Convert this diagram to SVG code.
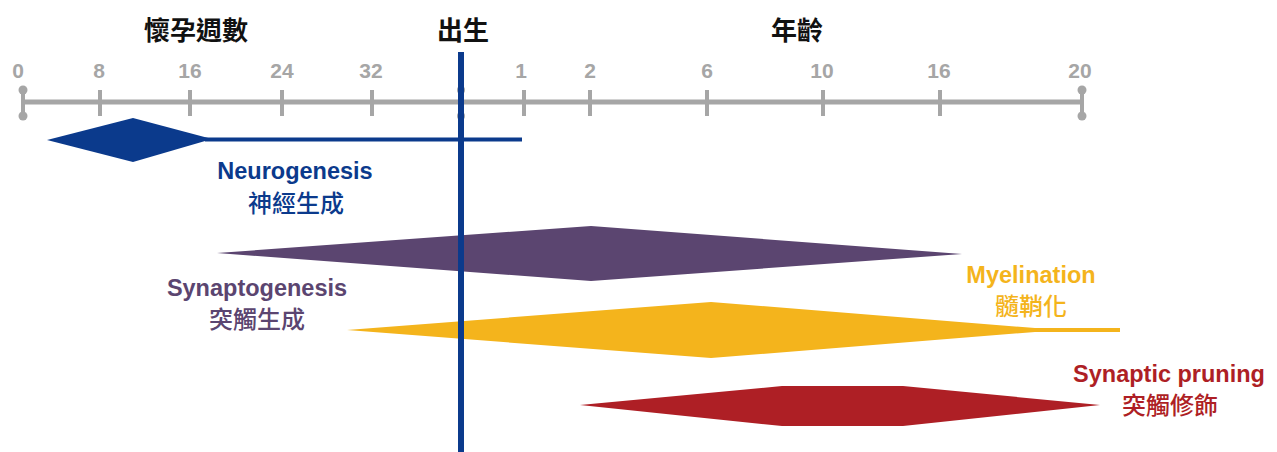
<svg xmlns="http://www.w3.org/2000/svg" width="1277" height="452" viewBox="0 0 1277 452">
<style>
.t{font-family:"Liberation Sans",Arial,"Noto Sans CJK TC",sans-serif;text-anchor:middle}
.title{font-size:26px;font-weight:bold;fill:#111}
.num{font-size:21px;font-weight:bold;fill:#a6a6a6}
.en{font-size:23.5px;font-weight:bold}
.zh{font-size:24px;font-weight:500}
.tick{stroke:#a6a6a6;stroke-width:4}
.cap{fill:#a6a6a6}
</style>
<rect width="1277" height="452" fill="#fff"/>
<g id="axis">
<line x1="23" y1="102" x2="1082" y2="102" stroke="#a6a6a6" stroke-width="5"/>
<line class="tick" x1="23" y1="90" x2="23" y2="116"/>
<circle class="cap" cx="23" cy="90" r="4.5"/><circle class="cap" cx="23" cy="116" r="4.5"/>
<line class="tick" x1="1082" y1="90" x2="1082" y2="116"/>
<circle class="cap" cx="1082" cy="90" r="4.5"/><circle class="cap" cx="1082" cy="116" r="4.5"/>
<circle class="cap" cx="461" cy="90" r="4"/><circle class="cap" cx="461" cy="116" r="4"/>
<line class="tick" x1="100" y1="90" x2="100" y2="116"/>
<line class="tick" x1="190" y1="90" x2="190" y2="116"/>
<line class="tick" x1="282" y1="90" x2="282" y2="116"/>
<line class="tick" x1="372" y1="90" x2="372" y2="116"/>
<line class="tick" x1="524" y1="90" x2="524" y2="116"/>
<line class="tick" x1="590" y1="90" x2="590" y2="116"/>
<line class="tick" x1="707" y1="90" x2="707" y2="116"/>
<line class="tick" x1="823" y1="90" x2="823" y2="116"/>
<line class="tick" x1="940" y1="90" x2="940" y2="116"/>
<text class="t num" x="18" y="78">0</text>
<text class="t num" x="99" y="78">8</text>
<text class="t num" x="190" y="78">16</text>
<text class="t num" x="282" y="78">24</text>
<text class="t num" x="371" y="78">32</text>
<text class="t num" x="521" y="78">1</text>
<text class="t num" x="590" y="78">2</text>
<text class="t num" x="707" y="78">6</text>
<text class="t num" x="822" y="78">10</text>
<text class="t num" x="939" y="78">16</text>
<text class="t num" x="1080" y="78">20</text>
<text class="t title" x="196" y="40">懷孕週數</text>
<text class="t title" x="463" y="40">出生</text>
<text class="t title" x="797" y="40">年齡</text>
</g>
<g id="neurogenesis">
<polygon points="47,140 133,118 212,139 133,162" fill="#0b3a8c"/>
<line x1="205" y1="139.5" x2="522" y2="139.5" stroke="#0b3a8c" stroke-width="4"/>
<text class="t en" x="295" y="179" fill="#0b3a8c">Neurogenesis</text>
<text class="t zh" x="296" y="212" fill="#0b3a8c">神經生成</text>
</g>
<g id="synaptogenesis">
<polygon points="217,253 591,226 962,254 591,281" fill="#5b4570"/>
<text class="t en" x="257" y="296" fill="#5b4570">Synaptogenesis</text>
<text class="t zh" x="257" y="328" fill="#5b4570">突觸生成</text>
</g>
<g id="myelination">
<polygon points="347,330 711,302 1035,328 1120,328 1120,332 1035,332 711,358" fill="#f4b41c"/>
<text class="t en" x="1031" y="283" fill="#f4b41c">Myelination</text>
<text class="t zh" x="1031" y="315" fill="#f4b41c">髓鞘化</text>
</g>
<g id="pruning">
<polygon points="580,405 782,386 903,386 1100,405 903,426 782,426" fill="#ae1f25"/>
<text class="t en" x="1169" y="382" fill="#ae1f25">Synaptic pruning</text>
<text class="t zh" x="1170" y="414" fill="#ae1f25">突觸修飾</text>
</g>
<g id="connectors">
<line x1="461" y1="52" x2="461" y2="452" stroke="#0b3a8c" stroke-width="6"/>
</g>
</svg>
